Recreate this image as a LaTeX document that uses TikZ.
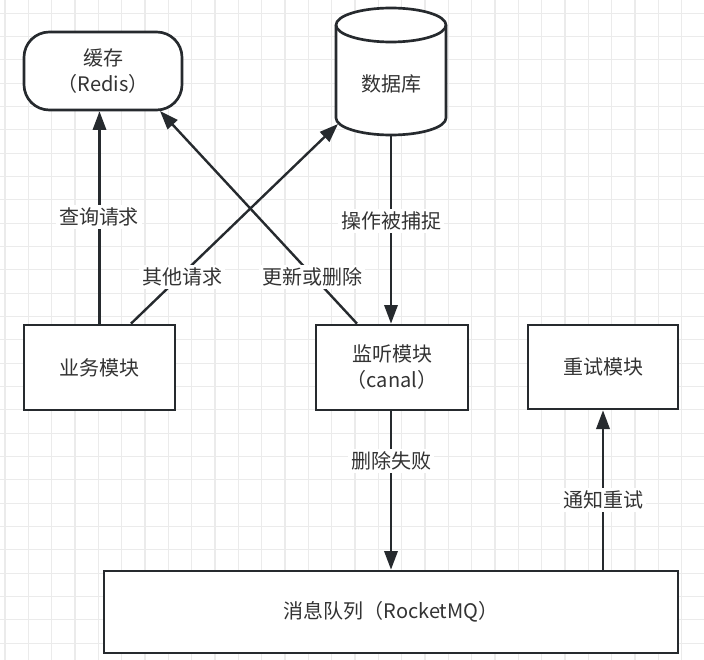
\documentclass[tikz,border=0pt]{standalone}
\usepackage{fontspec}
\setmainfont{Noto Sans CJK SC}
\usetikzlibrary{arrows.meta,calc}
\definecolor{ln}{HTML}{262A2E}
\definecolor{tx}{HTML}{333333}
\definecolor{gridc}{HTML}{EBEBEB}
\tikzset{
  gridline/.style={draw=gridc, line width=0.8pt},
  box/.style={draw=ln, line width=2pt, fill=white, text=tx, align=center,
    font=\fontsize{15}{19.5}\selectfont, inner sep=0pt},
  conn/.style={draw=ln, line width=1.8pt, -{Triangle[length=14pt,width=10pt]}},
  lbl/.style={fill=white, text=tx, font=\fontsize{15}{18}\selectfont, inner sep=2pt}
}
\begin{document}
\begin{tikzpicture}[x=0.75pt,y=-0.75pt]
\useasboundingbox (0,0) rectangle (704,660);
\fill[white] (0,0) rectangle (704,660);
\foreach \i in {0,...,30} { \draw[gridline] ({5+23.333*\i},0) -- ({5+23.333*\i},660); }
\foreach \i in {0,...,28} { \draw[gridline] (0,{13.3+23.333*\i}) -- (704,{13.3+23.333*\i}); }

% nodes
\node[box, rounded corners=19pt, minimum width=118.5pt, minimum height=58.5pt] (cache) at (103,71) {缓存\\（Redis）};
\node[box, minimum width=113.25pt, minimum height=63.75pt] (biz) at (99.5,367.5) {业务模块};
\node[box, minimum width=114pt, minimum height=63.75pt] (mon) at (392,367.5) {监听模块\\（canal）};
\node[box, minimum width=112.5pt, minimum height=63pt] (retry) at (603,367) {重试模块};
\node[box, minimum width=430.5pt, minimum height=61.5pt] (mq) at (391,612) {消息队列（RocketMQ）};

% database cylinder
\draw[ln, line width=2pt, fill=white]
  (336,25) -- (336,118) arc[start angle=180, end angle=0, x radius=55, y radius=17]
  -- (446,25) arc[start angle=0, end angle=-180, x radius=55, y radius=17] -- cycle;
\draw[ln, line width=2pt] (336,25) arc[start angle=180, end angle=0, x radius=55, y radius=17];
\node[minimum width=82.5pt, minimum height=95pt, inner sep=0pt] (db) at (391,71.5) {};
\node[text=tx, font=\fontsize{15}{18}\selectfont] (dbtext) at (391,84) {数据库};
\coordinate (dbhit) at (338,124);
\coordinate (cachehit) at (160,111);
\coordinate (dbbot) at (391,135);

% connectors
\draw[conn] (biz.north) -- (biz.north |- cache.south);
\draw[conn] ([xshift=23.6pt]biz.north) -- (dbhit);
\draw[conn] ([xshift=-26.25pt]mon.north) -- (cachehit);
\draw[conn] (dbbot) -- (dbbot |- mon.north);
\draw[conn] (mon.south -| dbbot) -- (dbbot |- mq.north);
\draw[conn] (mq.north -| retry.south) -- (retry.south);

% labels
\node[lbl] (l1) at (99,217) {查询请求};
\node[lbl] (l2) at (182,277) {其他请求};
\node[lbl] (l3) at (312,277) {更新或删除};
\node[lbl] (l4) at (391,221) {操作被捕捉};
\node[lbl] (l5) at (391,461) {删除失败};
\node[lbl] (l6) at (603,500) {通知重试};
\end{tikzpicture}
\end{document}
